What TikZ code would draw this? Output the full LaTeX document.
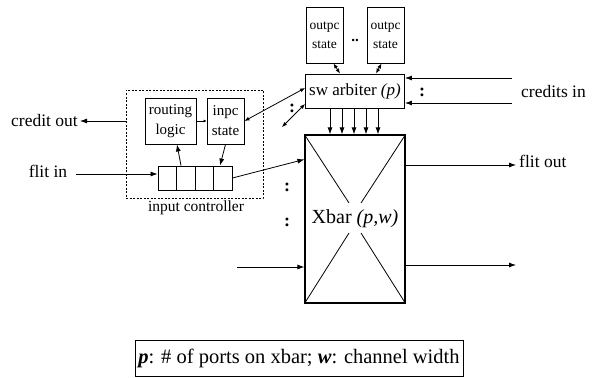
\documentclass[tikz,border=0pt]{standalone}
\usepackage{fontspec}
\setmainfont{Liberation Serif}
\usetikzlibrary{arrows.meta,positioning,calc}

\begin{document}
\begin{tikzpicture}[
  x=1pt,y=-1pt,
  box/.style={draw,line width=0.9pt,inner sep=0pt,align=center},
  arr/.style={-{Latex[length=7pt,width=5pt]},line width=0.8pt},
  darr/.style={{Latex[length=5pt,width=4pt]}-{Latex[length=5pt,width=4pt]},line width=0.8pt},
  tiny arr/.style={-{Latex[length=3pt,width=3pt]},line width=0.8pt},
  lbl/.style={font=\fontsize{17.5}{17.5}\selectfont,inner sep=2pt},
  vdots/.style={font=\bfseries\fontsize{18}{18}\selectfont,inner sep=0pt}
]
  \useasboundingbox (0,0) rectangle (593,377);

  % output VC state
  \node[box,font=\fontsize{13.5}{19}\selectfont,minimum width=37pt,minimum height=56pt]
    (outpcA) at (324.5,35) {outpc\\state};
  \node[box,font=\fontsize{13.5}{19}\selectfont,minimum width=37pt,minimum height=56pt]
    (outpcB) at (385.5,35) {outpc\\state};
  \node[font=\bfseries\fontsize{15}{15}\selectfont,inner sep=0pt] (outdots) at (355,40) {..};

  % switch arbiter
  \node[box,font=\fontsize{17}{17}\selectfont,minimum width=99pt,minimum height=34pt]
    (arbiter) at (355,91) {sw arbiter \textit{(p)}};
  \draw[darr] ($(outpcA.south)+(9,0)$) -- ($(arbiter.north)+(-15,0)$);
  \draw[darr] ($(outpcB.south)+(-4,0)$) -- ($(arbiter.north)+(21,0)$);

  % crossbar
  \node[box,line width=1.2pt,minimum width=100pt,minimum height=168pt,
        font=\fontsize{20}{20}\selectfont] (xbar) at (355,219) {Xbar \textit{(p,w)}};
  \draw[line width=0.8pt] (xbar.north west) -- ($(xbar.center)+(-6,-16)$);
  \draw[line width=0.8pt] (xbar.north east) -- ($(xbar.center)+(6,-16)$);
  \draw[line width=0.8pt] ($(xbar.center)+(-6,14)$) -- (xbar.south west);
  \draw[line width=0.8pt] ($(xbar.center)+(6,14)$) -- (xbar.south east);

  % grants from arbiter to crossbar
  \foreach \dx in {-25,-13,-1,11,23}
    \draw[arr] ($(arbiter.south)+(\dx,0)$) -- ($(xbar.north)+(\dx,0)$);

  % input controller
  \node[draw,dash pattern=on 2pt off 1.5pt,line width=0.9pt,
        minimum width=137pt,minimum height=108pt] (inctrl) at (194.5,144) {};
  \node[box,font=\fontsize{15}{20}\selectfont,minimum width=51pt,minimum height=46pt]
    (routing) at (170.5,121) {routing\\logic};
  \node[box,font=\fontsize{15}{20}\selectfont,minimum width=37pt,minimum height=46pt]
    (inpc) at (225.5,121) {inpc\\state};
  \node[box,minimum width=74pt,minimum height=24pt] (buffer) at (195,178) {};
  \foreach \f in {0.25,0.5,0.75}
    \draw[line width=0.9pt] ($(buffer.north west)!\f!(buffer.north east)$)
      -- ($(buffer.south west)!\f!(buffer.south east)$);
  \node[font=\fontsize{15.5}{15.5}\selectfont] (ctrllabel) at (196,208) {input controller};

  \draw[tiny arr] (routing.east) -- (inpc.west);
  \draw[arr] ($(buffer.north)+(-14,0)$) -- ($(routing.south)+(6.5,0)$);
  \draw[arr] (inpc.south) -- ($(buffer.north)+(25,0)$);
  \draw[arr] (buffer.east) -- ($(xbar.north west)+(0,25)$);

  % links between controllers and arbiter
  \draw[darr] (inpc.east) -- ($(arbiter.west)+(0,-3)$);
  \coordinate (arbret) at (282,127);
  \draw[darr] (arbret) -- ($(arbiter.west)+(0,13)$);
  \node[vdots] (dotsA) at (292,108) {:};
  \node[vdots] (dotsB) at (287,187) {:};
  \node[vdots] (dotsC) at (287,222) {:};

  % credit out, flit in
  \node[lbl,anchor=east] (creditout) at (80,121) {credit out};
  \draw[arr] (inctrl.west |- creditout) -- (creditout.east);
  \node[lbl] (flitin) at (48,171) {flit in};
  \draw[arr] ($(flitin.east)+(7,3)$) -- ($(buffer.west)+(0,-4)$);

  % second input port
  \coordinate (inB) at (237,267);
  \draw[arr] (inB) -- (inB -| xbar.west);

  % credits in
  \node[lbl,anchor=west] (creditsin) at (519,92) {credits in};
  \coordinate (crA) at (512,78);
  \coordinate (crB) at (512,103);
  \draw[arr] (crA) -- (crA -| arbiter.east);
  \draw[arr] (crB) -- (crB -| arbiter.east);
  \node[vdots] (dotsD) at (422,92) {:};

  % outputs
  \coordinate (outA) at (516,165);
  \node[lbl,anchor=west] (flitout) at ($(outA)+(1,-4)$) {flit out};
  \draw[arr] (outA -| xbar.east) -- (outA);
  \coordinate (outB) at (516,265);
  \draw[arr] (outB -| xbar.east) -- (outB);

  % legend
  \node[draw,line width=0.9pt,minimum width=328pt,minimum height=36pt,
        font=\fontsize{20.5}{20.5}\selectfont] (legend) at (299,358)
    {\textbf{\textit{p}}: \# of ports on xbar; \textbf{\textit{w}}: channel width};
\end{tikzpicture}
\end{document}
